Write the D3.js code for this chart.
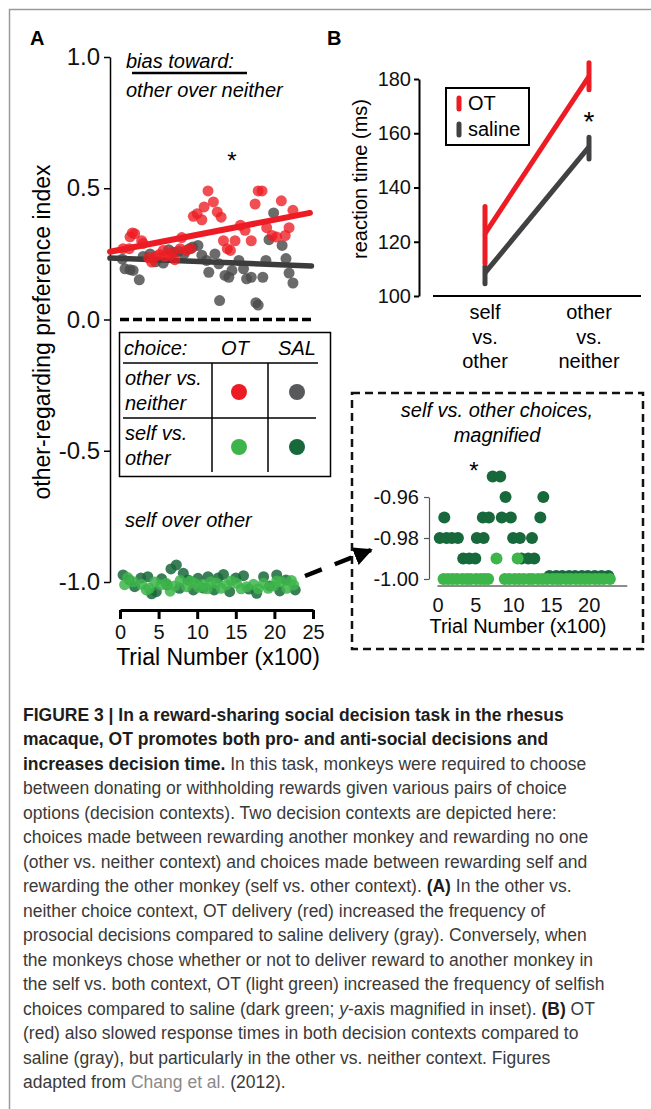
<!DOCTYPE html>
<html>
<head>
<meta charset="utf-8">
<script src="https://cdnjs.cloudflare.com/ajax/libs/d3/7.8.5/d3.min.js"></script>
<style>
    body { margin: 0; background: #ffffff; }
    svg { display: block; font-family: "Liberation Sans", Arial, Helvetica, sans-serif; }
</style>
</head>
<body>
<svg id="vis"></svg>
<script>
/**
 * Values: [trial (x100), other-regarding preference index]
 */
// other vs. neither, OT (red)
const otOtherNeither = [[0.4,0.27],[1.2,0.27],[1.3,0.315],[1.6,0.33],[1.9,0.327],[2.8,0.30],[3.0,0.29],[3.7,0.235],
    [4.1,0.219],[4.6,0.24],[5.1,0.248],[5.6,0.263],[5.8,0.24],[6.4,0.245],[6.8,0.257],[7.1,0.228],[7.8,0.27],
    [8.0,0.312],[8.6,0.263],[9.2,0.27],[9.5,0.393],[10.0,0.403],[10.6,0.38],[10.9,0.429],[11.4,0.49],[12.1,0.448],
    [12.6,0.41],[13.1,0.39],[13.4,0.30],[13.9,0.27],[14.3,0.263],[14.9,0.30],[15.6,0.359],[16.2,0.34],[17.0,0.30],
    [17.5,0.44],[17.9,0.49],[18.4,0.49],[19.0,0.35],[19.7,0.32],[20.3,0.314],[20.9,0.452],[21.4,0.32],[21.9,0.35],
    [22.4,0.416]];
// other vs. neither, saline (gray)
const salOtherNeither = [[0.3,0.23],[0.65,0.193],[1.3,0.19],[1.7,0.187],[2.5,0.151],[3.0,0.24],[3.9,0.25],
    [4.6,0.22],[5.6,0.215],[6.3,0.266],[7.0,0.255],[7.6,0.26],[8.3,0.25],[9.0,0.27],[9.4,0.276],[10.1,0.282],
    [10.6,0.245],[11.2,0.225],[11.5,0.18],[12.3,0.25],[12.8,0.212],[12.9,0.072],[13.6,0.168],[14.1,0.161],
    [14.5,0.187],[15.4,0.225],[16.0,0.193],[16.4,0.155],[17.0,0.161],[17.6,0.064],[17.9,0.055],[18.5,0.161],
    [18.9,0.225],[19.3,0.304],[19.9,0.406],[21.0,0.282],[21.5,0.232],[21.9,0.177],[22.4,0.139]];
// self vs. other, OT (light green)
const otSelfOther = [[0.6,-1.010],[1.0,-0.983],[1.7,-0.999],[2.8,-1.009],[3.4,-1.030],[3.8,-1.024],[4.5,-1.000],
    [5.3,-1.011],[6.0,-1.005],[6.5,-1.035],[7.1,-1.015],[7.8,-0.994],[8.6,-1.018],[9.1,-0.996],[9.7,-1.005],
    [10.2,-1.020],[10.8,-1.009],[11.3,-1.026],[11.8,-0.999],[12.5,-1.005],[13.1,-1.024],[13.8,-1.011],[14.4,-0.996],
    [15.1,-1.005],[15.7,-1.026],[16.4,-1.018],[17.3,-1.009],[17.9,-1.026],[18.6,-1.005],[19.2,-1.024],[19.9,-1.015],
    [20.3,-0.996],[20.9,-0.999],[21.6,-1.024],[22.2,-0.994],[22.5,-1.011]];
// self vs. other, saline (dark green)
const salSelfOther = [[0.4,-0.973],[1.2,-0.992],[1.9,-1.018],[2.7,-0.985],[3.6,-0.980],[4.1,-1.045],[4.7,-1.037],
    [5.4,-0.988],[6.1,-1.011],[6.6,-0.950],[7.3,-0.935],[7.7,-1.024],[8.2,-0.967],[8.8,-0.992],[9.5,-1.030],
    [10.1,-0.986],[10.8,-1.023],[11.4,-0.980],[12.2,-1.030],[12.7,-0.985],[13.4,-0.971],[14.2,-1.037],[15.0,-0.985],
    [16.0,-0.976],[16.7,-1.027],[17.7,-1.043],[18.6,-0.980],[19.4,-1.015],[20.3,-0.973],[20.7,-1.034],[21.5,-0.992],
    [22.7,-1.030]];
// regression lines, end points
const otFit = [[-1.3, 0.258], [24.6, 0.406]];
const salFit = [[-1.3, 0.234], [24.8, 0.204]];

// inset, self vs. other magnified
const insetSAL = [[7.3,-0.95],[8.3,-0.95],[9.0,-0.96],[14.0,-0.96],[0.9,-0.97],[6.0,-0.97],[6.8,-0.97],[8.5,-0.97],
    [9.7,-0.97],[13.6,-0.97],[0.3,-0.98],[1.2,-0.98],[1.9,-0.98],[2.7,-0.98],[5.2,-0.98],[6.1,-0.98],[10.0,-0.98],
    [10.9,-0.98],[12.5,-0.98],[3.4,-0.99],[4.2,-0.99],[5.0,-0.99],[11.1,-0.99],[12.0,-0.99],[12.8,-0.99],
    [14.8,-0.9985],[15.7,-0.9985],[16.5,-0.9985],[17.4,-0.9985],[18.2,-0.9985],[19.1,-0.9985],[19.9,-0.9985],
    [20.8,-0.9985],[21.7,-0.9985],[22.6,-0.9985]];
const insetOT = [[7.8,-0.99],[10.6,-0.99],[0.8,-1.0],[1.4,-1.0],[2.0,-1.0],[2.6,-1.0],[3.3,-1.0],[3.9,-1.0],
    [4.4,-1.0],[5.1,-1.0],[5.7,-1.0],[6.2,-1.0],[6.7,-1.0],[8.9,-1.0],[9.5,-1.0],[10.2,-1.0],[10.8,-1.0],[11.4,-1.0],
    [12.1,-1.0],[12.6,-1.0],[13.3,-1.0],[13.9,-1.0],[14.5,-1.0],[15.2,-1.0],[15.8,-1.0],[16.3,-1.0],[17.0,-1.0],
    [17.6,-1.0],[18.3,-1.0],[18.9,-1.0],[19.5,-1.0],[20.1,-1.0],[20.8,-1.0],[21.4,-1.0],[22.0,-1.0],[22.8,-1.0]];

// panel B, reaction time (ms)
const rtCategories = ["self vs. other", "other vs. neither"];
const rtOT = [123, 181];
const rtOTerr = [[112, 133], [176, 186]];
const rtSAL = [108.5, 155];
const rtSALerr = [[104.5, 111], [150.5, 158.5]];

// tick labels
const prefTicks = [-1, -0.5, 0, 0.5, 1];
const trialTicks = [0, 5, 10, 15, 20, 25];
const insetYTicks = [-1.00, -0.98, -0.96];
const insetXTicks = [0, 5, 10, 15, 20];
const rtTicks = [100, 120, 140, 160, 180];

// caption text, line by line: b = bold, r = regular, i = italic, l = link
const captionLines = [
    [["b", "FIGURE 3 | In a reward-sharing social decision task in the rhesus"]],
    [["b", "macaque, OT promotes both pro- and anti-social decisions and"]],
    [["b", "increases decision time."], ["r", " In this task, monkeys were required to choose"]],
    [["r", "between donating or withholding rewards given various pairs of choice"]],
    [["r", "options (decision contexts). Two decision contexts are depicted here:"]],
    [["r", "choices made between rewarding another monkey and rewarding no one"]],
    [["r", "(other vs. neither context) and choices made between rewarding self and"]],
    [["r", "rewarding the other monkey (self vs. other context). "], ["b", "(A)"], ["r", " In the other vs."]],
    [["r", "neither choice context, OT delivery (red) increased the frequency of"]],
    [["r", "prosocial decisions compared to saline delivery (gray). Conversely, when"]],
    [["r", "the monkeys chose whether or not to deliver reward to another monkey in"]],
    [["r", "the self vs. both context, OT (light green) increased the frequency of selfish"]],
    [["r", "choices compared to saline (dark green; "], ["i", "y"], ["r", "-axis magnified in inset). "], ["b", "(B)"], ["r", " OT"]],
    [["r", "(red) also slowed response times in both decision contexts compared to"]],
    [["r", "saline (gray), but particularly in the other vs. neither context. Figures"]],
    [["r", "adapted from "], ["l", "Chang et al."], ["r", " (2012)."]]
];

const FONT = "Liberation Sans, Arial, Helvetica, sans-serif";
const RED = "#ed1c24", GRAY = "#4a4a4a", LIGHTGREEN = "#3db54a", DARKGREEN = "#17683a";

window.onload = function(){
    setup();
};

let svgCanvas;

function setupCanvas(){
    svgCanvas = d3.select("#vis")
        .attr("width", 651)
        .attr("height", 1109);

    // grey frame round the figure
    svgCanvas.append("path")
        .attr("d", "M9.5,1109V9.5H651")
        .attr("fill", "none")
        .attr("stroke", "#9a9a9a")
        .attr("stroke-width", 1.5);
}

function styleAxis(g, size){
    g.attr("font-family", FONT).attr("font-size", size);
    g.selectAll("text").attr("fill", "#111");
}

function drawPanelA(){
    let xA = d3.scaleLinear().domain([0, 25]).range([120, 313]);
    let yA = d3.scaleLinear().domain([-1, 1]).range([582, 57]);

    svgCanvas.append("text").attr("x", 30).attr("y", 45)
        .attr("font-size", 20).attr("font-weight", "bold").text("A");

    // y axis
    svgCanvas.append("g")
        .attr("transform", "translate(110,0)")
        .call(d3.axisLeft(yA).tickValues(prefTicks).tickFormat(function(d){ return d.toFixed(1); })
            .tickSize(6).tickSizeOuter(0).tickPadding(4))
        .call(function(g){
            styleAxis(g, 24);
            g.selectAll("path, line").attr("stroke-width", 1.5);
        });

    svgCanvas.append("text")
        .attr("transform", "translate(50,332) rotate(-90)")
        .attr("text-anchor", "middle")
        .attr("font-size", 23)
        .text("other-regarding preference index");

    // x axis (detached, below the plot)
    svgCanvas.append("g")
        .attr("transform", "translate(0,610)")
        .call(d3.axisBottom(xA).tickValues(trialTicks).tickSize(9).tickSizeOuter(0).tickPadding(6))
        .call(function(g){
            styleAxis(g, 20);
            g.selectAll("path, line").attr("stroke-width", 3);
        });

    svgCanvas.append("text")
        .attr("x", 218).attr("y", 665)
        .attr("text-anchor", "middle")
        .attr("font-size", 23)
        .text("Trial Number (x100)");

    // zero line
    svgCanvas.append("line")
        .attr("x1", xA(0)).attr("x2", xA(25))
        .attr("y1", yA(0)).attr("y2", yA(0))
        .attr("stroke", "#000").attr("stroke-width", 3.3)
        .attr("stroke-dasharray", "9,4");

    let fitLine = d3.line().x(function(d){ return xA(d[0]); }).y(function(d){ return yA(d[1]); });

    // saline points and fit, then OT on top
    svgCanvas.append("g").selectAll("circle").data(salOtherNeither).enter().append("circle")
        .attr("cx", function(d){ return xA(d[0]); })
        .attr("cy", function(d){ return yA(d[1]); })
        .attr("r", 5.5)
        .attr("fill", GRAY).attr("fill-opacity", 0.82);

    svgCanvas.append("path").attr("d", fitLine(salFit))
        .attr("stroke", "#3c3c3c").attr("stroke-width", 5.5).attr("stroke-linecap", "round").attr("fill", "none");

    svgCanvas.append("g").selectAll("circle").data(otOtherNeither).enter().append("circle")
        .attr("cx", function(d){ return xA(d[0]); })
        .attr("cy", function(d){ return yA(d[1]); })
        .attr("r", 5.5)
        .attr("fill", RED).attr("fill-opacity", 0.78);

    svgCanvas.append("path").attr("d", fitLine(otFit))
        .attr("stroke", RED).attr("stroke-width", 6).attr("stroke-linecap", "round").attr("fill", "none");

    // self vs other, around -1
    svgCanvas.append("g").selectAll("circle").data(salSelfOther).enter().append("circle")
        .attr("cx", function(d){ return xA(d[0]); })
        .attr("cy", function(d){ return yA(d[1]); })
        .attr("r", 5.5)
        .attr("fill", DARKGREEN).attr("fill-opacity", 0.85);

    svgCanvas.append("g").selectAll("circle").data(otSelfOther).enter().append("circle")
        .attr("cx", function(d){ return xA(d[0]); })
        .attr("cy", function(d){ return yA(d[1]); })
        .attr("r", 5.5)
        .attr("fill", LIGHTGREEN).attr("fill-opacity", 0.85);

    // annotations
    svgCanvas.append("text").attr("x", 126).attr("y", 68)
        .attr("font-size", 20).attr("font-style", "italic").text("bias toward:");
    svgCanvas.append("line").attr("x1", 132).attr("x2", 247).attr("y1", 73).attr("y2", 73)
        .attr("stroke", "#000").attr("stroke-width", 2.5);
    svgCanvas.append("text").attr("x", 126).attr("y", 97)
        .attr("font-size", 20).attr("font-style", "italic").text("other over neither");
    svgCanvas.append("text").attr("x", 232).attr("y", 169).attr("text-anchor", "middle")
        .attr("font-size", 24).text("*");
    svgCanvas.append("text").attr("x", 125).attr("y", 527)
        .attr("font-size", 20).attr("font-style", "italic").text("self over other");

    drawLegendTable();
}

function drawLegendTable(){
    let tbl = svgCanvas.append("g");
    tbl.append("rect").attr("x", 119.5).attr("y", 332.5).attr("width", 211).attr("height", 144)
        .attr("fill", "none").attr("stroke", "#000").attr("stroke-width", 1.5);
    tbl.append("line").attr("x1", 123).attr("x2", 318).attr("y1", 363).attr("y2", 363)
        .attr("stroke", "#000").attr("stroke-width", 1.5);
    tbl.append("line").attr("x1", 123).attr("x2", 316).attr("y1", 418).attr("y2", 418)
        .attr("stroke", "#000").attr("stroke-width", 1.5);
    [212, 268].forEach(function(x){
        tbl.append("line").attr("x1", x).attr("x2", x).attr("y1", 363).attr("y2", 472)
            .attr("stroke", "#000").attr("stroke-width", 1.5);
    });

    let texts = [
        {x: 124, y: 355, t: "choice:", a: "start"},
        {x: 235, y: 355, t: "OT", a: "middle"},
        {x: 297, y: 355, t: "SAL", a: "middle"},
        {x: 125, y: 385, t: "other vs.", a: "start"},
        {x: 125, y: 410, t: "neither", a: "start"},
        {x: 125, y: 440, t: "self vs.", a: "start"},
        {x: 125, y: 465, t: "other", a: "start"}
    ];
    tbl.selectAll("text").data(texts).enter().append("text")
        .attr("x", function(d){ return d.x; })
        .attr("y", function(d){ return d.y; })
        .attr("text-anchor", function(d){ return d.a; })
        .attr("font-size", 20).attr("font-style", "italic")
        .text(function(d){ return d.t; });

    let dots = [
        {x: 239, y: 392, c: RED}, {x: 297, y: 392, c: "#58595b"},
        {x: 239, y: 447, c: LIGHTGREEN}, {x: 297, y: 447, c: DARKGREEN}
    ];
    tbl.selectAll("circle").data(dots).enter().append("circle")
        .attr("cx", function(d){ return d.x; })
        .attr("cy", function(d){ return d.y; })
        .attr("r", 8)
        .attr("fill", function(d){ return d.c; });
}

function drawInset(){
    let xI = d3.scaleLinear().domain([0, 20]).range([437.5, 588.7]);
    let yI = d3.scaleLinear().domain([-1.0, -0.96]).range([579, 497]);

    // dashed arrow from the -1 cluster to the inset
    svgCanvas.append("defs").append("marker")
        .attr("id", "head").attr("viewBox", "0 0 10 10")
        .attr("refX", 9).attr("refY", 5)
        .attr("markerWidth", 4.2).attr("markerHeight", 4.2)
        .attr("orient", "auto")
        .append("path").attr("d", "M0,0L10,5L0,10z").attr("fill", "#000");
    svgCanvas.append("line")
        .attr("x1", 305).attr("y1", 576).attr("x2", 371).attr("y2", 550)
        .attr("stroke", "#000").attr("stroke-width", 4.5)
        .attr("stroke-dasharray", "18,14")
        .attr("marker-end", "url(#head)");

    svgCanvas.append("rect").attr("x", 352).attr("y", 393).attr("width", 291).attr("height", 256)
        .attr("fill", "none").attr("stroke", "#111").attr("stroke-width", 2.5)
        .attr("stroke-dasharray", "8,5");

    svgCanvas.append("text").attr("x", 497).attr("y", 417).attr("text-anchor", "middle")
        .attr("font-size", 20).attr("font-style", "italic").text("self vs. other choices,");
    svgCanvas.append("text").attr("x", 497).attr("y", 442).attr("text-anchor", "middle")
        .attr("font-size", 20).attr("font-style", "italic").text("magnified");
    svgCanvas.append("text").attr("x", 474).attr("y", 479).attr("text-anchor", "middle")
        .attr("font-size", 24).text("*");

    svgCanvas.append("g")
        .attr("transform", "translate(429,0)")
        .call(d3.axisLeft(yI).tickValues(insetYTicks).tickFormat(function(d){ return d.toFixed(2); })
            .tickSize(5).tickSizeOuter(0).tickPadding(5))
        .call(function(g){
            styleAxis(g, 20);
            g.selectAll("path, line").attr("stroke", "#555").attr("stroke-width", 1.2);
        });

    svgCanvas.append("line").attr("x1", xI(0)).attr("x2", xI(25.1)).attr("y1", 586).attr("y2", 586)
        .attr("stroke", "#666").attr("stroke-width", 1.5);
    svgCanvas.append("g")
        .attr("transform", "translate(0,586)")
        .call(d3.axisBottom(xI).tickValues(insetXTicks).tickSize(0).tickPadding(12))
        .call(function(g){
            styleAxis(g, 20);
            g.select(".domain").remove();
        });
    svgCanvas.append("text").attr("x", 518).attr("y", 633).attr("text-anchor", "middle")
        .attr("font-size", 20).text("Trial Number (x100)");

    svgCanvas.append("g").selectAll("circle").data(insetSAL).enter().append("circle")
        .attr("cx", function(d){ return xI(d[0]); })
        .attr("cy", function(d){ return yI(d[1]); })
        .attr("r", 6)
        .attr("fill", DARKGREEN);
    svgCanvas.append("g").selectAll("circle").data(insetOT).enter().append("circle")
        .attr("cx", function(d){ return xI(d[0]); })
        .attr("cy", function(d){ return yI(d[1]); })
        .attr("r", 6)
        .attr("fill", LIGHTGREEN);
}

function drawPanelB(){
    let xB = d3.scalePoint().domain(rtCategories).range([433, 641]).padding(0.5);
    let yB = d3.scaleLinear().domain([100, 180]).range([296, 79]);

    svgCanvas.append("text").attr("x", 327).attr("y", 45)
        .attr("font-size", 20).attr("font-weight", "bold").text("B");

    svgCanvas.append("g")
        .attr("transform", "translate(419,0)")
        .call(d3.axisLeft(yB).tickValues(rtTicks).tickSize(5).tickSizeOuter(0).tickPadding(3))
        .call(function(g){
            styleAxis(g, 20);
            g.selectAll("path, line").attr("stroke-width", 2);
        });

    svgCanvas.append("text")
        .attr("transform", "translate(367,179) rotate(-90)")
        .attr("text-anchor", "middle")
        .attr("font-size", 20)
        .text("reaction time (ms)");

    svgCanvas.append("line").attr("x1", xB.range()[0]).attr("x2", xB.range()[1])
        .attr("y1", yB(100)).attr("y2", yB(100))
        .attr("stroke", "#000").attr("stroke-width", 2);

    // category labels, one word per line
    rtCategories.forEach(function(c){
        let t = svgCanvas.append("text").attr("text-anchor", "middle").attr("font-size", 20);
        c.split(" ").forEach(function(w, i){
            t.append("tspan").attr("x", xB(c)).attr("y", 319 + i * 24.5).text(w);
        });
    });

    let series = [
        {mean: rtSAL, err: rtSALerr, color: "#414042"},
        {mean: rtOT, err: rtOTerr, color: RED}
    ];
    series.forEach(function(s){
        let pts = rtCategories.map(function(c, i){ return [xB(c), yB(s.mean[i])]; });
        svgCanvas.append("path").attr("d", d3.line()(pts))
            .attr("stroke", s.color).attr("stroke-width", 5).attr("fill", "none");
        rtCategories.forEach(function(c, i){
            svgCanvas.append("line")
                .attr("x1", xB(c)).attr("x2", xB(c))
                .attr("y1", yB(s.err[i][0])).attr("y2", yB(s.err[i][1]))
                .attr("stroke", s.color).attr("stroke-width", 5).attr("stroke-linecap", "round");
        });
    });

    svgCanvas.append("text").attr("x", 589).attr("y", 131).attr("text-anchor", "middle")
        .attr("font-size", 28).text("*");

    // legend box
    svgCanvas.append("rect").attr("x", 446).attr("y", 88).attr("width", 83).attr("height", 57)
        .attr("fill", "#fff").attr("stroke", "#000").attr("stroke-width", 2);
    let items = [{label: "OT", color: RED, y: 103}, {label: "saline", color: "#414042", y: 129}];
    items.forEach(function(d){
        svgCanvas.append("line").attr("x1", 459).attr("x2", 459).attr("y1", d.y - 5).attr("y2", d.y + 6)
            .attr("stroke", d.color).attr("stroke-width", 5).attr("stroke-linecap", "round");
        svgCanvas.append("text").attr("x", 468).attr("y", d.y + 7).attr("font-size", 20).text(d.label);
    });
}

function drawCaption(){
    let cap = svgCanvas.append("g");
    captionLines.forEach(function(line, i){
        let t = cap.append("text")
            .attr("x", 23)
            .attr("y", 721 + i * 24.47)
            .attr("font-size", 17.5)
            .attr("fill", "#3a3a3a");
        line.forEach(function(seg){
            let s = t.append("tspan").text(seg[1]);
            if (seg[0] === "b") s.attr("font-weight", "bold").attr("fill", "#1d1d1d");
            if (seg[0] === "i") s.attr("font-style", "italic");
            if (seg[0] === "l") s.attr("fill", "#8a8a8a");
        });
    });
}

function setup(){
    setupCanvas();
    drawPanelA();
    drawInset();
    drawPanelB();
    drawCaption();
}
</script>
</body>
</html>
